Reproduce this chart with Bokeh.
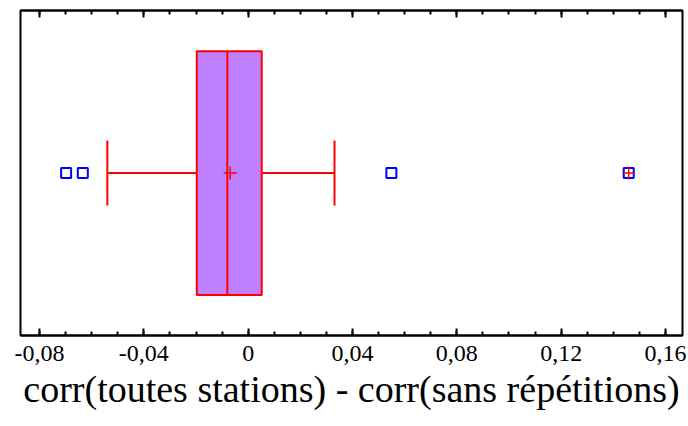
from bokeh.plotting import figure
from bokeh.models import Range1d, LinearAxis, FixedTicker
from bokeh.embed import file_html
from bokeh.resources import INLINE

# Box-and-whisker statistics
q1 = [-0.0197]
median = [-0.0080]
q3 = [0.0052]
mean = [-0.0069]
whisker_low = [-0.0540]
whisker_high = [0.0331]
outliers = [-0.0698, -0.0634, 0.0549, 0.1459]
far_outliers = [0.1459]
tick_values = [-0.08, -0.04, 0.0, 0.04, 0.08, 0.12, 0.16]
tick_labels = ["-0,08", "-0,04", "0", "0,04", "0,08", "0,12", "0,16"]
minor_values = [-0.08, -0.07, -0.06, -0.05, -0.04, -0.03, -0.02, -0.01, 0.0,
                0.01, 0.02, 0.03, 0.04, 0.05, 0.06, 0.07, 0.08, 0.09, 0.10,
                0.11, 0.12, 0.13, 0.14, 0.15, 0.16]
x_label = "corr(toutes stations) - corr(sans répétitions)"

Y = 0.5
BOX_H = 0.375
CAP_H = 0.1

p = figure(width=688, height=426, output_backend="svg", toolbar_location=None,
           x_range=Range1d(-0.08729, 0.16652), y_range=Range1d(0, 1),
           x_axis_type=None, y_axis_type=None,
           min_border_left=20, min_border_right=6, min_border_top=10, min_border_bottom=91)
p.grid.visible = False
p.outline_line_color = "black"
p.outline_line_width = 2
p.background_fill_color = "white"

common = dict(axis_line_color="black", axis_line_width=2,
              major_tick_in=7, major_tick_out=0, minor_tick_in=4, minor_tick_out=0,
              major_tick_line_width=2, minor_tick_line_width=2,
              major_tick_line_color="black", minor_tick_line_color="black")

bottom = LinearAxis(ticker=FixedTicker(ticks=tick_values, minor_ticks=minor_values),
                    major_label_overrides=dict(zip(tick_values, tick_labels)),
                    major_label_text_font="Liberation Serif",
                    major_label_text_font_size="24px",
                    major_label_text_color="black",
                    major_label_standoff=10,
                    axis_label=x_label,
                    axis_label_text_font="Liberation Serif",
                    axis_label_text_font_size="38px",
                    axis_label_text_font_style="normal",
                    axis_label_text_color="black",
                    axis_label_standoff=4,
                    **common)
p.add_layout(bottom, "below")

top = LinearAxis(ticker=FixedTicker(ticks=tick_values, minor_ticks=minor_values),
                 major_label_overrides={v: "" for v in tick_values},
                 major_label_standoff=0,
                 major_label_text_font_size="1px",
                 **common)
p.add_layout(top, "above")

# box
p.quad(left=q1, right=q3, bottom=[Y - BOX_H], top=[Y + BOX_H],
       fill_color="#BF80FF", line_color="#FF0000", line_width=2)
# median
p.segment(x0=median, x1=median, y0=[Y - BOX_H], y1=[Y + BOX_H],
          line_color="#FF0000", line_width=2)
# whiskers
p.segment(x0=whisker_low + q3, x1=q1 + whisker_high, y0=[Y, Y], y1=[Y, Y],
          line_color="#FF0000", line_width=2)
p.segment(x0=whisker_low + whisker_high, x1=whisker_low + whisker_high,
          y0=[Y - CAP_H] * 2, y1=[Y + CAP_H] * 2,
          line_color="#FF0000", line_width=2)
# mean
p.scatter(x=mean, y=[Y], marker="cross", size=13, line_color="#FF0000", line_width=1.5)
# outliers
p.scatter(x=outliers, y=[Y] * len(outliers), marker="square", size=10,
          fill_color=None, line_color="#0000FF", line_width=2)
p.scatter(x=far_outliers, y=[Y] * len(far_outliers), marker="cross", size=13,
          line_color="#FF0000", line_width=1.5)

open("out.html", "w").write(file_html(p, INLINE))
